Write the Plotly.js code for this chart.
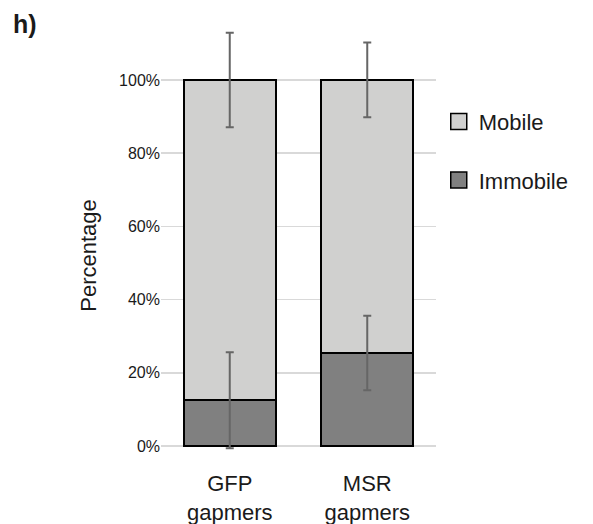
<!DOCTYPE html>
<html>
<head>
<meta charset="utf-8">
<script src="https://cdn.plot.ly/plotly-3.0.1.min.js"></script>
<style>html,body{margin:0;padding:0;background:#fff;}#chart{width:593px;height:524px;}</style>
</head>
<body>
<div id="chart"></div>
<script>
const categories = ["GFP<br>gapmers", "MSR<br>gapmers"];
const immobile = [12.5, 25.4];
const immobileErr = [13.1, 10.2];
const mobile = [87.5, 74.6];
const mobileErr = [12.9, 10.2];
const yTicks = [0, 20, 40, 60, 80, 100];

const fontFam = "Liberation Sans, Arial, sans-serif";
const mobileColor = "#d0d0cf";
const immobileColor = "#808080";
const totals = immobile.map((v, i) => v + mobile[i]);

const errStyle = {type: "data", visible: true, color: "#666666", thickness: 2, width: 4};

const traces = [
  {
    type: "bar", name: "Immobile", x: categories, y: immobile, showlegend: false,
    marker: {color: immobileColor, line: {color: "#000", width: 2}}, width: 0.67
  },
  {
    type: "bar", name: "Mobile", x: categories, y: mobile, showlegend: false,
    marker: {color: mobileColor, line: {color: "#000", width: 2}}, width: 0.67
  },
  {
    type: "scatter", mode: "markers", x: categories, y: immobile, showlegend: false,
    marker: {size: 1, opacity: 0}, error_y: Object.assign({array: immobileErr}, errStyle)
  },
  {
    type: "scatter", mode: "markers", x: categories, y: totals, showlegend: false,
    marker: {size: 1, opacity: 0}, error_y: Object.assign({array: mobileErr}, errStyle)
  },
  {
    type: "scatter", mode: "markers", name: "Mobile", x: [categories[0]], y: [null],
    legendgroup: "a", legendrank: 1,
    marker: {symbol: "square", size: 20, color: mobileColor, line: {color: "#000", width: 1.5}}
  },
  {
    type: "scatter", mode: "markers", name: "Immobile", x: [categories[0]], y: [null],
    legendgroup: "b", legendrank: 2,
    marker: {symbol: "square", size: 20, color: immobileColor, line: {color: "#000", width: 1.5}}
  }
];

const layout = {
  width: 593, height: 524,
  margin: {l: 161, r: 157, t: 25, b: 67},
  paper_bgcolor: "#fff", plot_bgcolor: "#fff",
  barmode: "stack",
  showlegend: true,
  font: {family: fontFam, color: "#1a1a1a"},
  legend: {x: 1.01, xanchor: "left", y: 0.825, yanchor: "top", traceorder: "grouped", itemsizing: "trace",
           tracegroupgap: 27, font: {size: 22, family: fontFam, color: "#1a1a1a"}, bgcolor: "rgba(0,0,0,0)"},
  xaxis: {
    type: "category", range: [-0.5, 1.5], showgrid: false, zeroline: false, showline: false,
    ticks: "", ticklabelstandoff: 11, tickfont: {size: 22, family: fontFam, color: "#1a1a1a"}
  },
  yaxis: {
    range: [-3, 115], tickvals: yTicks, ticktext: yTicks.map(v => v + "%"),
    showgrid: true, gridcolor: "#d9d9d9", gridwidth: 1.5, zeroline: false, showline: false,
    ticks: "", tickfont: {size: 16, family: fontFam, color: "#1a1a1a"}
  },
  annotations: [
    {
      text: "<b>h)</b>", xref: "paper", yref: "paper", x: -0.545, y: 1.04, xanchor: "left", yanchor: "top",
      showarrow: false, font: {size: 25, family: fontFam, color: "#1a1a1a"}
    },
    {
      text: "Percentage", xref: "paper", yref: "paper", x: -0.262, y: 0.468, xanchor: "center", yanchor: "middle",
      textangle: -90, showarrow: false, font: {size: 22, family: fontFam, color: "#1a1a1a"}
    }
  ]
};

Plotly.newPlot("chart", traces, layout, {displayModeBar: false, staticPlot: true});
</script>
</body>
</html>
